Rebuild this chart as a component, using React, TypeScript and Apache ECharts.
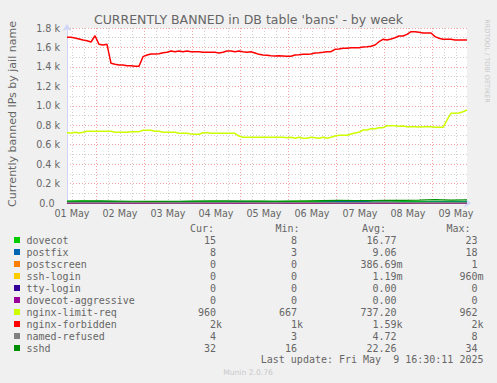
import React, { useEffect, useRef } from 'react';
import * as echarts from 'echarts';

// ---- texts ----
const TITLE = "CURRENTLY BANNED in DB table 'bans' - by week";
const Y_NAME = 'Currently banned IPs by jail name';
const SIDE_TEXT = 'RRDTOOL / TOBI OETIKER';
const FOOTER = 'Munin 2.0.76';
const LAST_UPDATE = 'Last update: Fri May  9 16:30:11 2025';

// ---- axes (hours since 2025-05-01 00:00) ----
const X_MIN = 9.5;
const X_MAX = 209.5;
const DAY_LABELS = ['01 May', '02 May', '03 May', '04 May', '05 May', '06 May', '07 May', '08 May', '09 May'];
const DAY_LABEL_HOURS = [12, 36, 60, 84, 108, 132, 156, 180, 204];
const MIDNIGHT_HOURS = [24, 48, 72, 96, 120, 144, 168, 192];
const SIX_HOUR_HOURS = [12, 18, 30, 36, 42, 54, 60, 66, 78, 84, 90, 102, 108, 114, 126, 132, 138, 150, 156, 162, 174, 180, 186, 198, 204];
const Y_TICK_LABELS = ['0.0', '0.2 k', '0.4 k', '0.6 k', '0.8 k', '1.0 k', '1.2 k', '1.4 k', '1.6 k', '1.8 k'];

// ---- samples: main series every 2 h from 09:30 May 1; small series every 8 h ----
const MAIN_START = 9.5;
const MAIN_STEP = 2;
const SMALL_START = 9.5;
const SMALL_STEP = 8;

const nginxForbidden = [
  1704, 1704, 1697, 1687, 1677, 1669, 1656, 1720, 1632, 1625,
  1632, 1437, 1427, 1419, 1419, 1412, 1412, 1406, 1406, 1505,
  1522, 1533, 1533, 1536, 1546, 1550, 1563, 1556, 1563, 1556,
  1563, 1556, 1556, 1556, 1550, 1550, 1550, 1550, 1543, 1550,
  1563, 1563, 1556, 1563, 1556, 1550, 1556, 1543, 1529, 1522,
  1519, 1515, 1512, 1515, 1512, 1509, 1509, 1522, 1525, 1529,
  1529, 1533, 1543, 1546, 1550, 1556, 1556, 1581, 1584, 1591,
  1591, 1597, 1597, 1597, 1605, 1608, 1612, 1625, 1659, 1684,
  1677, 1687, 1700, 1718, 1718, 1735, 1762, 1762, 1756, 1749,
  1749, 1749, 1711, 1694, 1684, 1684, 1684, 1677, 1677, 1677,
  1677,
];

const nginxLimitReq = [
  723, 720, 727, 720, 727, 737, 737, 737, 737, 737,
  737, 737, 727, 727, 727, 727, 734, 734, 734, 748,
  748, 748, 737, 737, 727, 727, 727, 727, 717, 717,
  717, 710, 707, 707, 723, 723, 717, 717, 717, 717,
  717, 717, 717, 689, 676, 676, 676, 676, 676, 676,
  676, 676, 676, 676, 676, 670, 676, 667, 676, 667,
  667, 676, 672, 667, 676, 667, 676, 689, 696, 696,
  696, 710, 720, 727, 751, 751, 764, 764, 775, 775,
  795, 795, 795, 789, 792, 785, 785, 785, 782, 785,
  785, 785, 778, 778, 778, 854, 922, 922, 926, 939,
  957,
];

const dovecot = [20, 22, 18, 14, 12, 10, 12, 14, 16, 15, 14, 16, 18, 17, 16, 15, 14, 18, 22, 23, 20, 16, 14, 15, 18, 15];
const postfix = [8, 10, 12, 9, 6, 5, 8, 10, 9, 7, 8, 12, 10, 8, 6, 5, 10, 14, 18, 12, 9, 7, 6, 8, 10, 8];
const postscreen = [0, 0, 1, 0, 0, 0, 1, 0, 0, 0, 0, 1, 0, 0, 0, 0, 0, 1, 0, 0, 0, 1, 0, 0, 0, 0];
const sshLogin = [0, 0, 0, 0, 0, 0, 0, 0, 0, 0, 0, 0, 0, 0, 0, 0, 0, 0, 0, 0, 0, 0, 0, 0, 0, 0];
const ttyLogin = [0, 0, 0, 0, 0, 0, 0, 0, 0, 0, 0, 0, 0, 0, 0, 0, 0, 0, 0, 0, 0, 0, 0, 0, 0, 0];
const dovecotAggressive = [0, 0, 0, 0, 0, 0, 0, 0, 0, 0, 0, 0, 0, 0, 0, 0, 0, 0, 0, 0, 0, 0, 0, 0, 0, 0];
const namedRefused = [5, 4, 4, 5, 6, 5, 4, 3, 4, 5, 6, 5, 4, 4, 5, 6, 5, 4, 5, 6, 8, 5, 4, 4, 5, 4];
const sshd = [18, 20, 22, 20, 18, 17, 16, 18, 20, 21, 22, 20, 19, 18, 20, 22, 24, 26, 25, 24, 26, 28, 30, 34, 30, 32];

// ---- legend ----
const NAMES = ['dovecot', 'postfix', 'postscreen', 'ssh-login', 'tty-login', 'dovecot-aggressive', 'nginx-limit-req', 'nginx-forbidden', 'named-refused', 'sshd'];
const COLORS = ['#00CC00', '#0066B3', '#FF8000', '#FFCC00', '#330099', '#990099', '#CCFF00', '#FF0000', '#808080', '#008F00'];
const CUR = ['15', '8', '0', '0', '0', '0', '960', '2k', '4', '32'];
const MIN = ['8', '3', '0', '0', '0', '0', '667', '1k', '3', '16'];
const AVG = ['16.77', '9.06', '386.69m', '1.19m', '0.00', '0.00', '737.20', '1.59k', '4.72', '22.26'];
const MAX = ['23', '18', '1', '960m', '0', '0', '962', '2k', '8', '34'];
const SERIES_VALUES = [dovecot, postfix, postscreen, sshLogin, ttyLogin, dovecotAggressive, nginxLimitReq, nginxForbidden, namedRefused, sshd];
const SERIES_IS_MAIN = [false, false, false, false, false, false, true, true, false, false];

const FONT_COLOR = '#666666';
const MONO = 'DejaVu Sans Mono';
const SANS = 'DejaVu Sans';

const nb = (s: string) => s.replace(/ /g, '\u00a0');

function toPairs(values: number[], start: number, step: number) {
  return values.map((v, i) => [start + i * step, v]);
}

function splitUnit(s: string): [string, string] {
  const m = s.match(/^([0-9.]+)([a-zA-Z]?)$/);
  return m ? [m[1], m[2]] : [s, ''];
}

export default function App() {
  const ref = useRef<HTMLDivElement>(null);
  useEffect(() => {
    if (!ref.current) return;
    const chart = echarts.init(ref.current, undefined, { renderer: 'svg' });

    const series = NAMES.map((name, i) => ({
      name,
      type: 'line',
      xAxisIndex: 1,
      yAxisIndex: 0,
      data: SERIES_IS_MAIN[i]
        ? toPairs(SERIES_VALUES[i], MAIN_START, MAIN_STEP)
        : toPairs(SERIES_VALUES[i], SMALL_START, SMALL_STEP),
      showSymbol: false,
      symbol: 'none',
      clip: false,
      lineStyle: { color: COLORS[i], width: SERIES_IS_MAIN[i] ? 1.5 : 1.2 },
      itemStyle: { color: COLORS[i] },
      silent: true,
      z: 3 + i,
    }));

    const g: any[] = [];
    g.push({
      type: 'text', x: 248.5, y: 19.5,
      style: { text: TITLE, fill: FONT_COLOR, font: `12.5px "${SANS}"`, textAlign: 'center', textVerticalAlign: 'middle' },
    });
    g.push({
      type: 'text', x: 12, y: 114, rotation: Math.PI / 2,
      style: { text: Y_NAME, fill: FONT_COLOR, font: `11px "${SANS}"`, textAlign: 'center', textVerticalAlign: 'middle' },
    });
    g.push({
      type: 'text', x: 487, y: 61, rotation: -Math.PI / 2,
      style: { text: SIDE_TEXT, fill: '#C8C8C8', font: `6.5px "${SANS}"`, textAlign: 'center', textVerticalAlign: 'middle' },
    });
    g.push({
      type: 'text', x: 248, y: 372,
      style: { text: FOOTER, fill: '#C8C8C8', font: `7.6px "${SANS}"`, textAlign: 'center', textVerticalAlign: 'middle' },
    });

    const mono = `10px "${MONO}"`;
    const headerY = 228;
    const headers: [string, number][] = [['Cur:', 190], ['Min:', 275.5], ['Avg:', 362], ['Max:', 446.5]];
    headers.forEach(([t, x]) => g.push({
      type: 'text', x, y: headerY,
      style: { text: t, fill: FONT_COLOR, font: mono, textAlign: 'left', textVerticalAlign: 'middle' },
    }));
    const colRight = [216, 297, 396.5, 477.5];
    const cols = [CUR, MIN, AVG, MAX];
    NAMES.forEach((name, i) => {
      const y = 240 + i * 12;
      g.push({ type: 'rect', shape: { x: 14, y: y - 3, width: 6, height: 6 }, style: { fill: COLORS[i] } });
      g.push({
        type: 'text', x: 26.5, y,
        style: { text: name, fill: FONT_COLOR, font: mono, textAlign: 'left', textVerticalAlign: 'middle' },
      });
      cols.forEach((col, c) => {
        const [num, unit] = splitUnit(col[i]);
        g.push({
          type: 'text', x: colRight[c], y,
          style: { text: num, fill: FONT_COLOR, font: mono, textAlign: 'right', textVerticalAlign: 'middle' },
        });
        if (unit) {
          g.push({
            type: 'text', x: colRight[c], y,
            style: { text: unit, fill: FONT_COLOR, font: mono, textAlign: 'left', textVerticalAlign: 'middle' },
          });
        }
      });
    });
    g.push({
      type: 'text', x: 483.5, y: 359,
      style: { text: nb(LAST_UPDATE), fill: FONT_COLOR, font: mono, textAlign: 'right', textVerticalAlign: 'middle' },
    });

    const gridDash = [1, 2];
    chart.setOption({
      animation: false,
      backgroundColor: '#F0F0F0',
      textStyle: { fontFamily: SANS },
      grid: { left: 67, right: 30, top: 28, bottom: 180, show: true, backgroundColor: '#FFFFFF', borderWidth: 0 },
      xAxis: [
        {
          type: 'value', min: X_MIN, max: X_MAX, position: 'bottom',
          axisLine: { show: false },
          axisTick: { show: false, customValues: SIX_HOUR_HOURS },
          axisLabel: { show: false },
          splitLine: { show: true, lineStyle: { color: '#D0D0D0', width: 1, type: gridDash } },
        },
        {
          type: 'value', min: X_MIN, max: X_MAX, position: 'bottom',
          axisLine: {
            show: true, onZero: false,
            lineStyle: { color: '#CFD6F8', width: 1 },
            symbol: ['none', 'arrow'], symbolSize: [7, 7], symbolOffset: [0, 4],
          },
          axisTick: { show: false, customValues: MIDNIGHT_HOURS },
          axisLabel: {
            customValues: DAY_LABEL_HOURS,
            formatter: (v: number) => DAY_LABELS[DAY_LABEL_HOURS.indexOf(v)] ?? '',
            color: FONT_COLOR, fontSize: 9.6, fontFamily: SANS, margin: 5,
          },
          splitLine: { show: true, lineStyle: { color: '#F5A3A3', width: 1, type: gridDash } },
        },
      ],
      yAxis: {
        type: 'value', min: 0, max: 1800, interval: 200,
        axisLine: {
          show: true, onZero: false,
          lineStyle: { color: '#CFD6F8', width: 1 },
          symbol: ['none', 'arrow'], symbolSize: [7, 7], symbolOffset: [0, 4],
        },
        axisTick: { show: false },
        minorTick: { show: false, splitNumber: 2 },
        minorSplitLine: { show: true, lineStyle: { color: '#D0D0D0', width: 1, type: gridDash } },
        splitLine: { show: true, lineStyle: { color: '#F5A3A3', width: 1, type: gridDash } },
        axisLabel: {
          formatter: (v: number) => {
            const t = Y_TICK_LABELS[Math.round(v / 200)] ?? '';
            return v === 0 ? `{z|${t}}` : t;
          },
          rich: { z: { padding: [0, 5.5, 0, 0], fontSize: 9.6, color: FONT_COLOR, fontFamily: SANS } },
          color: FONT_COLOR, fontSize: 9.6, fontFamily: SANS, margin: 7,
        },
      },
      series,
      graphic: g,
    });
    return () => chart.dispose();
  }, []);
  return <div ref={ref} style={{ position: 'fixed', left: 0, top: 0, width: 497, height: 383 }} />;
}
